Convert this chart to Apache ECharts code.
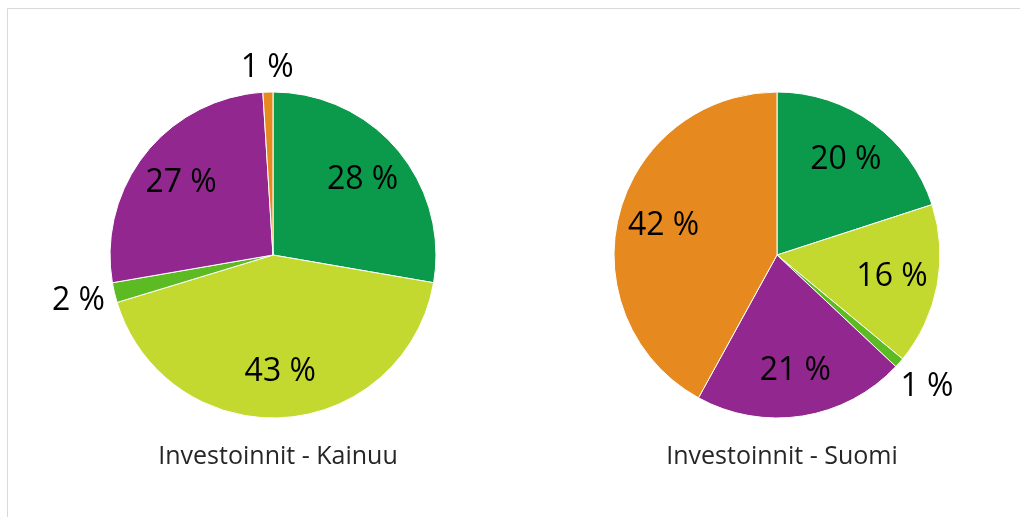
<!DOCTYPE html>
<html><head><meta charset="utf-8">
<script src="https://cdn.jsdelivr.net/npm/echarts@6/dist/echarts.min.js"></script>
<style>html,body{margin:0;padding:0;background:#fff}#c{width:1020px;height:517px}</style>
</head><body><div id="c"></div>
<script>
const categories = ['A', 'B', 'C', 'D', 'E'];
const colors = ['#0b9a4b', '#c3d92f', '#5cbb23', '#92278f', '#e68a1f'];
const kainuuValues = [28, 43, 2, 27, 1];
const suomiValues = [20, 16, 1, 21, 42];
const titles = ['Investoinnit - Kainuu', 'Investoinnit - Suomi'];
const smallLimit = 5;

const chart = echarts.init(document.getElementById('c'));
const centers = [[273, 255], [777, 255]];
const R = 163;
const font = "'Open Sans', sans-serif";
// outside-label leader length (style), per pie and slice index
const outsideLen = [{ 2: 37, 4: 24 }, { 2: 37 }];

function baseSeries(vals, center) {
  return {
    type: 'pie', center: center, radius: R, startAngle: 90, clockwise: true,
    silent: true, animation: false,
    label: { show: false }, labelLine: { show: false },
    itemStyle: { borderColor: '#fff', borderWidth: 1 },
    data: vals.map((v, i) => ({ name: categories[i], value: v, itemStyle: { color: colors[i] } }))
  };
}
function labelSeries(vals, center, k) {
  return {
    type: 'pie', center: center, radius: [R * 0.4, R], startAngle: 90, clockwise: true,
    silent: true, animation: false, z: 5,
    itemStyle: { color: 'rgba(0,0,0,0)', borderWidth: 0 },
    labelLine: { show: false, length: 14, length2: 0 },
    label: { show: true, position: 'inside', formatter: p => p.value + ' %',
      fontFamily: font, fontSize: 32, color: '#000' },
    labelLayout: p => (vals[p.dataIndex] < smallLimit ? { align: 'center' } : {}),
    data: vals.map((v, i) => {
      const d = { name: categories[i], value: v };
      if (v < smallLimit) {
        d.label = { position: 'outside', distanceToLabelLine: 0 };
        d.labelLine = { show: false, length: outsideLen[k][i] || 30, length2: 0 };
      }
      return d;
    })
  };
}

chart.setOption({
  backgroundColor: '#fff',
  graphic: [{ type: 'rect', shape: { x: 7.5, y: 8.5, width: 1100, height: 600 },
    style: { fill: 'none', stroke: '#d9d9d9', lineWidth: 1 }, silent: true }],
  title: titles.map((t, i) => ({
    text: t, left: centers[i][0], top: 439, textAlign: 'center',
    textStyle: { fontFamily: font, fontSize: 25, fontWeight: 'normal', color: '#262626' }
  })),
  series: [
    baseSeries(kainuuValues, centers[0]),
    baseSeries(suomiValues, centers[1]),
    labelSeries(kainuuValues, centers[0], 0),
    labelSeries(suomiValues, centers[1], 1)
  ]
});
</script></body></html>
